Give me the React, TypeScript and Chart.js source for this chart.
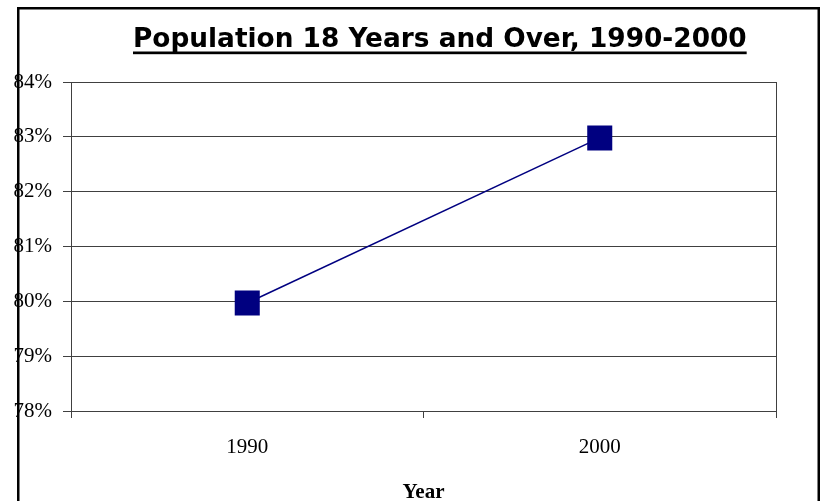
import React, { useEffect, useRef } from "react";
import { Chart, registerables } from "chart.js";

Chart.register(...registerables);

const categories = ["1990", "2000"];
const values = [79.97, 82.98];
const yMin = 78;
const yMax = 84;
const yStep = 1;
const titleText = "Population 18 Years and Over, 1990-2000";
const xTitle = "Year";

export default function App() {
  const ref = useRef<HTMLCanvasElement>(null);

  useEffect(() => {
    if (!ref.current) return;
    const decor = {
      id: "decor",
      afterDraw(chart: any) {
        const ctx = chart.ctx as CanvasRenderingContext2D;
        const a = chart.chartArea;
        ctx.save();
        // plot area border
        ctx.strokeStyle = "#404040";
        ctx.lineWidth = 1;
        ctx.strokeRect(Math.round(a.left) + 0.5, Math.round(a.top) + 0.5, Math.round(a.right - a.left), Math.round(a.bottom - a.top));
        // title
        const targetW = 614;
        ctx.font = "bold 28px 'DejaVu Sans'";
        const w0 = ctx.measureText(titleText).width;
        const size = (28 * targetW) / w0;
        ctx.font = `bold ${size.toFixed(2)}px 'DejaVu Sans'`;
        ctx.fillStyle = "#000";
        ctx.textAlign = "left";
        ctx.textBaseline = "alphabetic";
        const tx = 133;
        ctx.fillText(titleText, tx, 47);
        const tw = ctx.measureText(titleText).width;
        ctx.fillRect(tx, 51.5, tw, 2.7);
        // x axis title
        ctx.font = "bold 21px 'Liberation Serif'";
        ctx.textAlign = "center";
        ctx.fillText(xTitle, (a.left + a.right) / 2, 498);
        // outer frame
        ctx.strokeStyle = "#000";
        ctx.lineWidth = 2.5;
        ctx.strokeRect(18.25, 8.25, 800.5, 600);
        ctx.restore();
      },
    };

    const chart = new Chart(ref.current, {
      type: "line",
      data: {
        labels: categories,
        datasets: [
          {
            data: values,
            borderColor: "#000080",
            backgroundColor: "#000080",
            borderWidth: 1.5,
            pointStyle: "rect",
            pointRadius: 17.7,
            pointHoverRadius: 17.7,
            pointBorderWidth: 0,
            pointBackgroundColor: "#000080",
            pointBorderColor: "#000080",
            tension: 0,
          },
        ],
      },
      options: {
        responsive: false,
        animation: false,
        layout: { padding: { top: 82, right: 53, left: 0, bottom: 0 } },
        plugins: {
          legend: { display: false },
          title: { display: false },
          tooltip: { enabled: false },
        },
        scales: {
          x: {
            type: "category",
            offset: true,
            afterFit: (s: any) => {
              s.height = 90;
            },
            grid: {
              offset: true,
              drawOnChartArea: false,
              drawTicks: true,
              tickLength: 7,
              color: "#404040",
            },
            border: { display: true, color: "#404040", width: 1 },
            ticks: {
              color: "#000",
              padding: 17,
              font: { family: "'Liberation Serif'", size: 21 },
              maxRotation: 0,
            },
          },
          y: {
            min: yMin,
            max: yMax,
            afterFit: (s: any) => {
              s.width = 71;
            },
            grid: {
              color: "#404040",
              lineWidth: 1,
              drawTicks: true,
              tickLength: 8,
            },
            border: { display: true, color: "#404040", width: 1 },
            ticks: {
              stepSize: yStep,
              color: "#000",
              padding: 11,
              font: { family: "'Liberation Serif'", size: 21 },
              callback: (v: any) => `${v}%`,
            },
          },
        },
      },
      plugins: [decor],
    });
    return () => chart.destroy();
  }, []);

  return (
    <div style={{ position: "absolute", left: 0, top: 0, width: 829, height: 501, background: "#fff" }}>
      <canvas ref={ref} width={829} height={501} style={{ display: "block" }} />
    </div>
  );
}
